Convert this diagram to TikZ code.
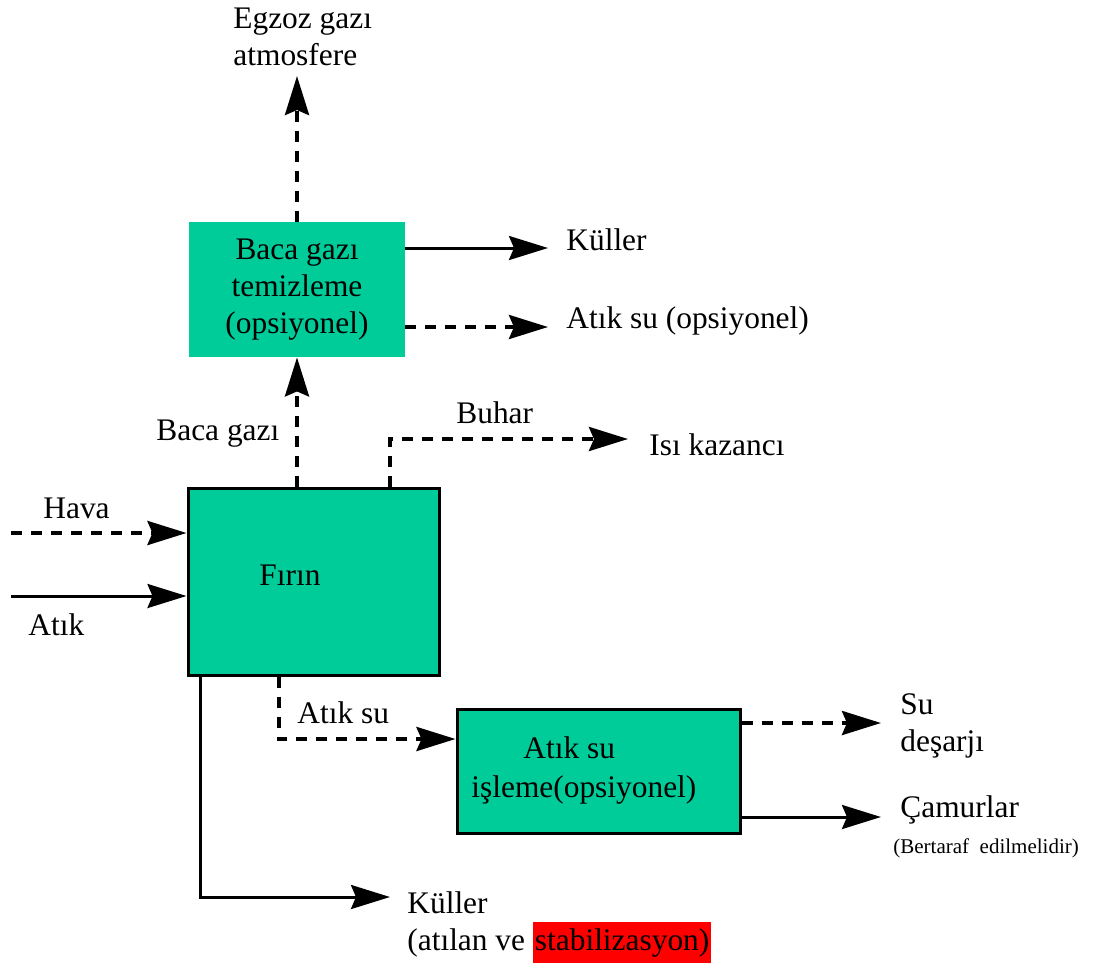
\documentclass[tikz,border=0pt]{standalone}
\usepackage{fontspec}
\setmainfont{Liberation Serif}
\usetikzlibrary{arrows.meta, positioning}
\definecolor{cteal}{HTML}{00CC99}
\definecolor{cred}{HTML}{FF0000}
\tikzset{
  every picture/.style={font=\fontsize{15.7}{18.5}\selectfont},
  box/.style={fill=cteal, inner sep=0pt, align=center},
  boxline/.style={box, draw=black, line width=1.5pt},
  lbl/.style={anchor=base west, inner sep=0pt, align=left},
  small/.style={lbl, font=\fontsize{10.5}{12}\selectfont},
  solarr/.style={-{Stealth[length=19.5pt, width=12pt, inset=2.5pt]}, line width=1.5pt},
  dasharr/.style={solarr, line width=2pt, dash pattern=on 5.5pt off 4.5pt},
}

\begin{document}
\begin{tikzpicture}[x=0.5pt, y=-0.5pt]
  \useasboundingbox (0,0) rectangle (1099,965);

  % boxes
  \node[box, minimum width=108pt, minimum height=67.5pt] (temiz) at (297,289.5) {Baca gazı\\temizleme\\(opsiyonel)};
  \node[boxline, minimum width=125.5pt, minimum height=93.5pt] (firin) at (313.5,581.5) {};
  \node[boxline, minimum width=141.5pt, minimum height=62pt] (isleme) at (598.5,771) {};
  \node[lbl] (firinlbl) at (259,585) {Fırın};
  \node[lbl] (islemelbl) at (471,797) {\hspace*{26pt}Atık su\\[1pt]işleme(opsiyonel)};

  % labels (base = last line)
  \node[lbl] (egzlbl)    at (233,65)  {Egzoz gazı\\atmosfere};
  \node[lbl] (kullbl)    at (566,250) {Küller};
  \node[lbl] (asulbl)    at (566,328) {Atık su (opsiyonel)};
  \node[lbl] (bacalbl)   at (156,440) {Baca gazı};
  \node[lbl] (buharlbl)  at (456,423) {Buhar};
  \node[lbl] (isilbl)    at (649,455) {Isı kazancı};
  \node[lbl] (havalbl)   at (43,518)  {Hava};
  \node[lbl] (atiklbl)   at (28,635)  {Atık};
  \node[lbl] (atiksulbl) at (297,723) {Atık su};
  \node[lbl] (sulbl)     at (900,751) {Su\\deşarjı};
  \node[lbl] (camurlbl)  at (900,817) {Çamurlar};
  \node[small] (bertlbl) at (893,853) {(Bertaraf\enspace edilmelidir)};
  \node[lbl] (kul2lbl)   at (407,950) {Küller\\(atılan ve \setlength{\fboxsep}{1pt}\colorbox{cred}{\strut stabilizasyon)}};

  % free ends
  \coordinate (egztip)    at (297,76);
  \coordinate (kultip)    at (548,248);
  \coordinate (asutip)    at (548,327);
  \coordinate (buhartip)  at (628,439);
  \coordinate (havastart) at (11,533);
  \coordinate (atikstart) at (11,596);
  \coordinate (sutip)     at (881,723);
  \coordinate (camtip)    at (881,817);
  \coordinate (kul2tip)   at (390,897);

  % flows
  \draw[dasharr] (temiz.north) -- (egztip);
  \draw[dasharr] (temiz.south |- firin.north) -- (temiz.south);
  \draw[dasharr] ([xshift=101.5pt]firin.north west) |- (buhartip);
  \draw[dasharr] (havastart) -- (havastart -| firin.west);
  \draw[solarr]  (atikstart) -- (atikstart -| firin.west);
  \draw[solarr]  (kultip -| temiz.east) -- (kultip);
  \draw[dasharr] (asutip -| temiz.east) -- (asutip);
  \draw[dasharr] ([xshift=46pt]firin.south west) |- ([yshift=16pt]isleme.west);
  \draw[dasharr] (sutip -| isleme.east) -- (sutip);
  \draw[solarr]  (camtip -| isleme.east) -- (camtip);
  \draw[solarr]  ([xshift=7pt]firin.south west) |- (kul2tip);
\end{tikzpicture}
\end{document}
